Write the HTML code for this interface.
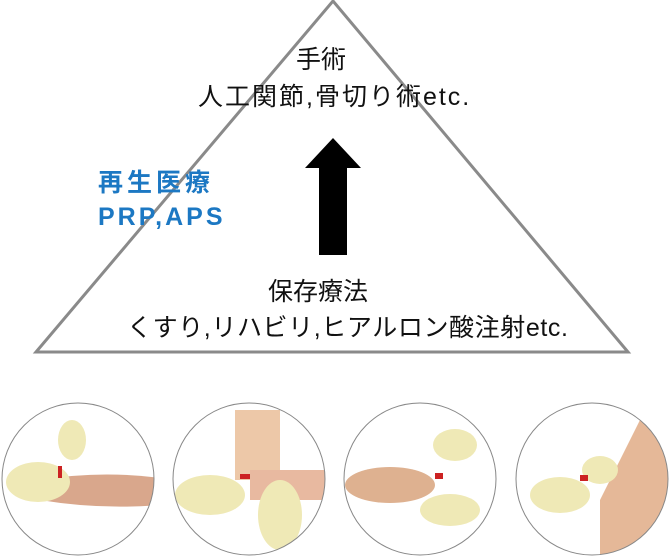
<!DOCTYPE html>
<html><head><meta charset="utf-8"><style>
body{margin:0;width:670px;height:558px;background:#fff;overflow:hidden;position:relative;font-family:"Liberation Sans","Noto Sans CJK JP",sans-serif;}
.t{position:absolute;white-space:nowrap;color:#111;font-size:25px;line-height:1;}
.b{color:#1c78c3;font-weight:bold;font-size:25px;}
</style></head><body>
<svg width="670" height="558" style="position:absolute;left:0;top:0">
<polygon points="333,1 628,352 36,352" fill="none" stroke="#8a8a8a" stroke-width="3"/>
<polygon points="319,255 347,255 347,168 361,168 333,138 305,168 319,168" fill="#000"/>
<defs><clipPath id="c1"><circle cx="78" cy="479" r="76"/></clipPath>
<clipPath id="c2"><circle cx="249" cy="479" r="76"/></clipPath>
<clipPath id="c3"><circle cx="420" cy="479" r="76"/></clipPath>
<clipPath id="c4"><circle cx="592" cy="479" r="76"/></clipPath></defs>
<g clip-path="url(#c1)">
<path d="M40,480 Q100,470 160,478 L160,505 Q100,510 40,500Z" fill="#d9a78c"/>
<ellipse cx="38" cy="482" rx="32" ry="20" fill="#efe9b6"/>
<ellipse cx="72" cy="440" rx="14" ry="20" fill="#efe9b6"/>
<rect x="58" y="466" width="4" height="12" fill="#c22"/>
</g>
<g clip-path="url(#c2)">
<rect x="235" y="410" width="45" height="70" fill="#edc8a8"/>
<path d="M250,470 L330,470 L330,500 L250,500Z" fill="#e8b9a0"/>
<ellipse cx="210" cy="495" rx="35" ry="20" fill="#efe9b6"/>
<ellipse cx="280" cy="515" rx="22" ry="35" fill="#efe9b6"/>
<rect x="240" y="474" width="10" height="5" fill="#c22"/>
</g>
<g clip-path="url(#c3)">
<ellipse cx="390" cy="485" rx="45" ry="18" fill="#deb190"/>
<ellipse cx="455" cy="445" rx="22" ry="16" fill="#efe9b6"/>
<ellipse cx="450" cy="510" rx="30" ry="16" fill="#efe9b6"/>
<rect x="435" y="473" width="8" height="6" fill="#c22"/>
</g>
<g clip-path="url(#c4)">
<path d="M640,420 L680,420 L680,560 L600,560 L600,500 Z" fill="#e5b898"/>
<ellipse cx="560" cy="495" rx="30" ry="18" fill="#efe9b6"/>
<ellipse cx="600" cy="470" rx="18" ry="14" fill="#efe9b6"/>
<rect x="580" y="475" width="8" height="6" fill="#c22"/>
</g>
<circle cx="78" cy="479" r="76" fill="none" stroke="#888" stroke-width="1"/>
<circle cx="249" cy="479" r="76" fill="none" stroke="#888" stroke-width="1"/>
<circle cx="420" cy="479" r="76" fill="none" stroke="#888" stroke-width="1"/>
<circle cx="592" cy="479" r="76" fill="none" stroke="#888" stroke-width="1"/>
</svg>
<div class="t" style="left:296px;top:48px">手術</div>
<div class="t" style="left:198px;top:85px;letter-spacing:2px">人工関節,骨切り術etc.</div>
<div class="t b" style="left:98px;top:171px;letter-spacing:4px">再生医療</div>
<div class="t b" style="left:98px;top:205px;letter-spacing:3px">PRP,APS</div>
<div class="t" style="left:268px;top:280px">保存療法</div>
<div class="t" style="left:127px;top:316px;letter-spacing:0.6px">くすり,リハビリ,ヒアルロン酸注射etc.</div>
</body></html>
